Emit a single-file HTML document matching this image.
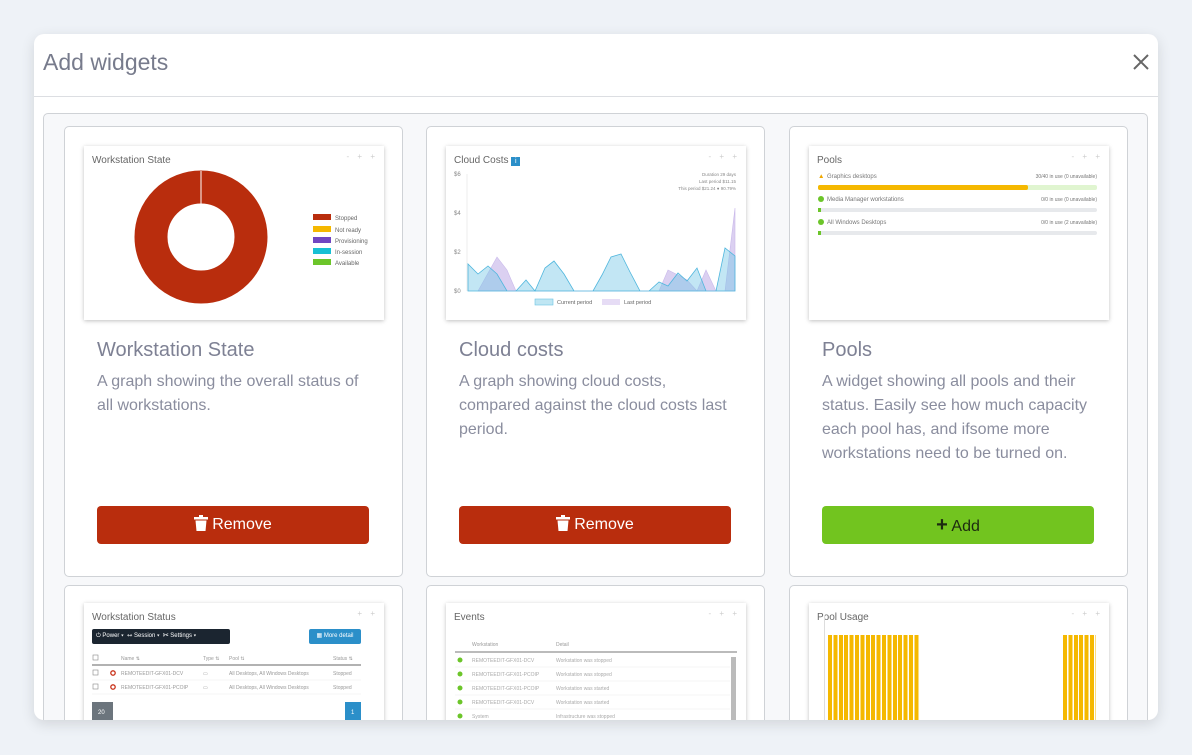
<!DOCTYPE html>
<html style="overflow:hidden;width:1192px;height:755px"><head><meta charset="utf-8">
<style>
*{margin:0;padding:0;box-sizing:border-box}
body{width:1192px;height:755px;background:#eef2f7;font-family:"Liberation Sans",sans-serif;position:relative;overflow:hidden}
.abs{position:absolute}
.modal{left:34px;top:34px;width:1124px;height:686px;background:#fff;border-radius:10px;box-shadow:0 4px 14px rgba(0,0,0,.12);overflow:hidden}
.inner{left:9px;top:79px;width:1105px;height:640px;background:#f7f8fa;border:1px solid #cfd2d6;border-radius:5px}
.card{background:#fff;border:1px solid #cfd2d6;border-radius:5px;width:339px;height:451px;overflow:hidden}
.prev{background:#fff;box-shadow:0 1px 4px rgba(0,0,0,.25);width:300px;height:174px;overflow:hidden}
.pt{font-size:10px;color:#666;position:absolute;left:8px;top:9px}
.ctl{position:absolute;right:6px;top:6px;font-size:8px;color:#ccc;letter-spacing:3px}
.title{font-size:20px;color:#7e8194;position:absolute;left:32px;top:212px}
.desc{font-size:16px;color:#8a8d9e;position:absolute;left:32px;top:243px;line-height:24px;width:272px}
.btn{position:absolute;left:32px;top:379px;width:272px;height:38px;border-radius:4px;color:#fff;font-size:16px;text-align:center;line-height:38px}
.red{background:#b92d0d}
.green{background:#72c41f;color:#1d2a10}
.trash{display:inline-block;vertical-align:-2px;margin-right:4px}
</style></head><body>
<div class="abs modal">
  <div class="abs" style="left:9px;top:15px;font-size:23px;color:#777b8c">Add widgets</div>
  <svg class="abs" style="left:1099px;top:20px" width="16" height="16"><path d="M1 1L15 15M15 1L1 15" stroke="#666" stroke-width="2"/></svg>
  <div class="abs" style="left:0;top:62px;width:1124px;height:1px;background:#dcdee2"></div>
  <div class="abs inner"></div>

  <div class="abs card" style="left:30px;top:92px">
    <div class="abs prev" style="left:19px;top:19px">
      <div class="pt">Workstation State</div><div class="ctl">- + +</div>
      <svg class="abs" style="left:0;top:0" width="300" height="174">
        <circle cx="117" cy="91" r="50" fill="none" stroke="#b92d0d" stroke-width="33"/>
        <line x1="117" y1="25" x2="117" y2="58" stroke="#fff" stroke-width="1"/>
        <rect x="229" y="68" width="18" height="6" fill="#b92d0d"/><text x="251" y="74" font-size="6" fill="#666">Stopped</text>
        <rect x="229" y="80" width="18" height="6" fill="#f5b800"/><text x="251" y="86" font-size="6" fill="#666">Not ready</text>
        <rect x="229" y="91" width="18" height="6" fill="#7046c2"/><text x="251" y="97" font-size="6" fill="#666">Provisioning</text>
        <rect x="229" y="102" width="18" height="6" fill="#17c0d4"/><text x="251" y="108" font-size="6" fill="#666">In-session</text>
        <rect x="229" y="113" width="18" height="6" fill="#6cc52a"/><text x="251" y="119" font-size="6" fill="#666">Available</text>
      </svg>
    </div>
    <div class="title">Workstation State</div>
    <div class="desc">A graph showing the overall status of all workstations.</div>
    <div class="btn red"><svg class="trash" width="14" height="16"><rect x="0" y="2" width="14" height="2.5" fill="#fff"/><rect x="5" y="0" width="4" height="2" fill="#fff"/><path d="M1.5 5.5H12.5L11.5 16H2.5Z" fill="#fff"/></svg>Remove</div>
  </div>

  <div class="abs card" style="left:392px;top:92px">
    <div class="abs prev" style="left:19px;top:19px">
      <div class="pt">Cloud Costs <span style="display:inline-block;width:9px;height:9px;border:1px solid #2b8fc9;background:#2b8fc9;color:#fff;font-size:7px;text-align:center;line-height:8px">i</span></div><div class="ctl">- + +</div>
      <svg class="abs" style="left:-446px;top:-146px" width="760" height="330">
        <text x="454" y="176" font-size="6" fill="#888">$6</text>
        <text x="454" y="215" font-size="6" fill="#888">$4</text>
        <text x="454" y="254" font-size="6" fill="#888">$2</text>
        <text x="454" y="293" font-size="6" fill="#888">$0</text>
        <line x1="467" y1="174" x2="467" y2="291" stroke="#ddd" stroke-width=".5"/>
        <text x="736" y="176" font-size="4.5" fill="#888" text-anchor="end">Duration 29 days</text>
        <text x="736" y="183" font-size="4.5" fill="#888" text-anchor="end">Last period $11.15</text>
        <text x="736" y="190" font-size="4.5" fill="#888" text-anchor="end">This period $21.24 ● 90.79%</text>
        <polygon fill="rgba(190,170,230,.55)" stroke="#c9b8ea" stroke-width=".6" points="478,291 497,257 507,270 516,291 659,291 668,270 678,275 687,280 697,291 706,270 716,291 725,291 735,208 735,291"/>
        <polygon fill="rgba(120,200,230,.45)" stroke="#4fb6dd" stroke-width=".8" points="468,291 468,264 478,274 488,266 497,274 507,291 516,291 526,280 535,291 545,268 554,261 564,274 574,291 583,291 593,291 602,275 611,257 621,254 630,272 640,291 649,291 659,282 668,286 678,273 687,281 697,268 706,291 716,291 725,248 735,256 735,291"/>
        <rect x="535" y="299" width="18" height="6" fill="#bfe6f3" stroke="#6cc4e4" stroke-width=".6"/><text x="557" y="304" font-size="5.5" fill="#666">Current period</text>
        <rect x="602" y="299" width="18" height="6" fill="#e6dcf5"/><text x="624" y="304" font-size="5.5" fill="#666">Last period</text>
      </svg>
    </div>
    <div class="title">Cloud costs</div>
    <div class="desc">A graph showing cloud costs, compared against the cloud costs last period.</div>
    <div class="btn red"><svg class="trash" width="14" height="16"><rect x="0" y="2" width="14" height="2.5" fill="#fff"/><rect x="5" y="0" width="4" height="2" fill="#fff"/><path d="M1.5 5.5H12.5L11.5 16H2.5Z" fill="#fff"/></svg>Remove</div>
  </div>

  <div class="abs card" style="left:755px;top:92px">
    <div class="abs prev" style="left:19px;top:19px">
      <div class="pt">Pools</div><div class="ctl">- + +</div>
      <svg class="abs" style="left:-808px;top:-146px" width="1120" height="330">
        <text x="817" y="178" font-size="6.5" fill="#f0a800">▲</text><text x="826" y="178" font-size="6" fill="#777">Graphics desktops</text>
        <text x="1096" y="178" font-size="5" fill="#777" text-anchor="end">30/40 in use (0 unavailable)</text>
        <rect x="817" y="185" width="279" height="5" rx="2" fill="#e0f5d0"/><rect x="817" y="185" width="210" height="5" rx="2" fill="#f5b800"/>
        <circle cx="820" cy="199" r="3" fill="#6cc52a"/><text x="826" y="201" font-size="6" fill="#777">Media Manager workstations</text>
        <text x="1096" y="201" font-size="5" fill="#777" text-anchor="end">0/0 in use (0 unavailable)</text>
        <rect x="817" y="208" width="279" height="4" rx="2" fill="#e7e9ec"/><rect x="817" y="208" width="3" height="4" fill="#6cc52a"/>
        <circle cx="820" cy="222" r="3" fill="#6cc52a"/><text x="826" y="224" font-size="6" fill="#777">All Windows Desktops</text>
        <text x="1096" y="224" font-size="5" fill="#777" text-anchor="end">0/0 in use (2 unavailable)</text>
        <rect x="817" y="231" width="279" height="4" rx="2" fill="#e7e9ec"/><rect x="817" y="231" width="3" height="4" fill="#6cc52a"/>
      </svg>
    </div>
    <div class="title">Pools</div>
    <div class="desc">A widget showing all pools and their status. Easily see how much capacity each pool has, and ifsome more workstations need to be turned on.</div>
    <div class="btn green"><b style="font-size:20px">+</b> Add</div>
  </div>

  <div class="abs card" style="left:30px;top:551px">
    <div class="abs prev" style="left:19px;top:17px;height:120px">
      <div class="pt">Workstation Status</div><div class="ctl">+ +</div>
      <div class="abs" style="left:8px;top:26px;width:138px;height:15px;background:#1b2530;border-radius:2px;color:#fff;font-size:6px;line-height:15px;padding-left:4px;white-space:nowrap">⏻ Power ▾ &nbsp;⇿ Session ▾ &nbsp;✂ Settings ▾</div>
      <div class="abs" style="left:225px;top:26px;width:52px;height:15px;background:#2b8fc9;border-radius:2px;color:#fff;font-size:6px;line-height:15px;text-align:center">▦ More detail</div>
      <svg class="abs" style="left:-84px;top:-603px" width="400" height="730">
        <rect x="93" y="655" width="5" height="5" fill="none" stroke="#888" stroke-width=".6"/>
        <text x="121" y="660" font-size="5" fill="#999">Name ⇅</text><text x="203" y="660" font-size="5" fill="#999">Type ⇅</text><text x="229" y="660" font-size="5" fill="#999">Pool ⇅</text><text x="333" y="660" font-size="5" fill="#999">Status ⇅</text>
        <line x1="92" y1="665" x2="361" y2="665" stroke="#666" stroke-width="1"/>
        <rect x="93" y="670" width="5" height="5" fill="none" stroke="#888" stroke-width=".6"/><circle cx="113" cy="673" r="2.2" fill="none" stroke="#c8321a" stroke-width="1.3"/>
        <text x="121" y="675" font-size="5" fill="#999">REMOTEEDIT-GFX01-DCV</text><text x="203" y="675" font-size="5" fill="#999">▭</text><text x="229" y="675" font-size="5" fill="#999">All Desktops, All Windows Desktops</text><text x="333" y="675" font-size="5" fill="#999">Stopped</text>
        <line x1="92" y1="680" x2="361" y2="680" stroke="#eee" stroke-width=".6"/>
        <rect x="93" y="684" width="5" height="5" fill="none" stroke="#888" stroke-width=".6"/><circle cx="113" cy="687" r="2.2" fill="none" stroke="#c8321a" stroke-width="1.3"/>
        <text x="121" y="689" font-size="5" fill="#999">REMOTEEDIT-GFX01-PCOIP</text><text x="203" y="689" font-size="5" fill="#999">▭</text><text x="229" y="689" font-size="5" fill="#999">All Desktops, All Windows Desktops</text><text x="333" y="689" font-size="5" fill="#999">Stopped</text>
        <line x1="92" y1="694" x2="361" y2="694" stroke="#eee" stroke-width=".6"/>
        <rect x="92" y="702" width="21" height="20" fill="#6c757d"/><text x="98" y="714" font-size="6" fill="#fff">20</text>
        <rect x="345" y="702" width="16" height="20" fill="#2b8fc9"/><text x="351" y="714" font-size="6" fill="#fff">1</text>
      </svg>
    </div>
  </div>

  <div class="abs card" style="left:392px;top:551px">
    <div class="abs prev" style="left:19px;top:17px;height:120px">
      <div class="pt">Events</div><div class="ctl">- + +</div>
      <svg class="abs" style="left:-446px;top:-603px" width="760" height="730">
        <text x="472" y="646" font-size="5" fill="#999">Workstation</text><text x="556" y="646" font-size="5" fill="#999">Detail</text>
        <line x1="455" y1="652" x2="737" y2="652" stroke="#777" stroke-width="1"/>
        <rect x="731" y="657" width="5" height="70" fill="#bbb"/>
        <g font-size="5" fill="#aaa">
          <circle cx="460" cy="660" r="2.5" fill="#6cc52a"/><text x="472" y="662">REMOTEEDIT-GFX01-DCV</text><text x="556" y="662">Workstation was stopped</text>
          <circle cx="460" cy="674" r="2.5" fill="#6cc52a"/><text x="472" y="676">REMOTEEDIT-GFX01-PCOIP</text><text x="556" y="676">Workstation was stopped</text>
          <circle cx="460" cy="688" r="2.5" fill="#6cc52a"/><text x="472" y="690">REMOTEEDIT-GFX01-PCOIP</text><text x="556" y="690">Workstation was started</text>
          <circle cx="460" cy="702" r="2.5" fill="#6cc52a"/><text x="472" y="704">REMOTEEDIT-GFX01-DCV</text><text x="556" y="704">Workstation was started</text>
          <circle cx="460" cy="716" r="2.5" fill="#6cc52a"/><text x="472" y="718">System</text><text x="556" y="718">Infrastructure was stopped</text>
        </g>
        <g stroke="#eee" stroke-width=".6"><line x1="455" y1="667" x2="730" y2="667"/><line x1="455" y1="681" x2="730" y2="681"/><line x1="455" y1="695" x2="730" y2="695"/><line x1="455" y1="709" x2="730" y2="709"/></g>
      </svg>
    </div>
  </div>

  <div class="abs card" style="left:755px;top:551px">
    <div class="abs prev" style="left:19px;top:17px;height:120px">
      <div class="pt">Pool Usage</div><div class="ctl">- + +</div>
      <div class="abs" style="left:15px;top:12px;width:1px;height:110px;background:#ddd"></div>
      <div class="abs" style="left:19px;top:32px;width:92px;height:90px;background:repeating-linear-gradient(90deg,#f5b800 0 4px,#fff 4px 5.4px)"></div>
      <div class="abs" style="left:254px;top:32px;width:33px;height:90px;background:repeating-linear-gradient(90deg,#f5b800 0 4px,#fff 4px 5.4px)"></div>
    </div>
  </div>
</div>
</body></html>
